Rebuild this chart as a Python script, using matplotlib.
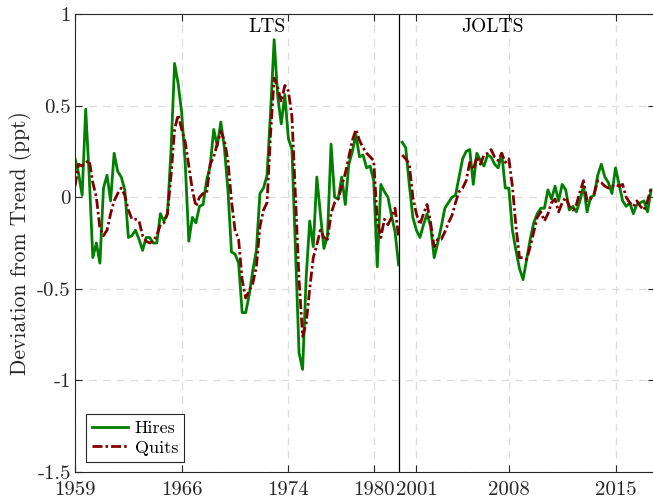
#!/usr/bin/env python3

import matplotlib
matplotlib.use("Agg")
import matplotlib.pyplot as plt
import numpy as np

plt.rcParams["font.family"] = "cmr10"
plt.rcParams["mathtext.fontset"] = "cm"
plt.rcParams["axes.unicode_minus"] = False

# quarterly deviations from trend, LTS sample (1959-1981)
hires_lts = [
    0.21, 0.13, 0.01, 0.48, 0.11, -0.33, -0.25, -0.36, 0.05, 0.12,
    -0.02, 0.24, 0.14, 0.11, 0.04, -0.22, -0.21, -0.18, -0.23, -0.29,
    -0.22, -0.22, -0.25, -0.25, -0.09, -0.13, -0.09, 0.26, 0.73, 0.62,
    0.46, 0.18, -0.24, -0.11, -0.14, -0.05, -0.04, 0.09, 0.17, 0.37,
    0.28, 0.41, 0.27, 0.04, -0.30, -0.31, -0.36, -0.63, -0.63, -0.53,
    -0.40, -0.29, 0.02, 0.05, 0.12, 0.47, 0.86, 0.55, 0.40, 0.56,
    0.32, 0.26, -0.29, -0.85, -0.94, -0.44, -0.13, -0.27, 0.11, -0.09,
    -0.28, -0.21, 0.29, 0.00, -0.01, 0.11, -0.04, 0.18, 0.25, 0.34,
    0.22, 0.23, 0.16, 0.17, 0.09, -0.38, 0.07, 0.03, 0.00, -0.10,
    -0.19, -0.37,
]
quits_lts = [
    0.06, 0.18, 0.17, 0.19, 0.20, 0.08, 0.00, -0.17, -0.21, -0.18,
    -0.09, -0.02, 0.02, 0.05, 0.01, -0.07, -0.12, -0.12, -0.13, -0.21,
    -0.24, -0.25, -0.24, -0.21, -0.15, -0.14, -0.09, 0.12, 0.37, 0.45,
    0.37, 0.30, 0.17, 0.04, -0.05, 0.00, 0.02, 0.02, 0.18, 0.22,
    0.29, 0.36, 0.31, 0.20, -0.02, -0.18, -0.23, -0.45, -0.55, -0.51,
    -0.47, -0.38, -0.16, -0.07, -0.03, 0.35, 0.65, 0.60, 0.52, 0.61,
    0.58, 0.44, 0.00, -0.45, -0.76, -0.69, -0.50, -0.33, -0.26, -0.18,
    -0.22, -0.23, -0.09, -0.03, -0.01, 0.06, 0.13, 0.22, 0.31, 0.37,
    0.31, 0.27, 0.24, 0.22, 0.20, -0.13, -0.22, -0.12, -0.15, -0.11,
    -0.06, -0.22,
]

# JOLTS sample (2001-2019)
hires_jolts = [
    0.30, 0.27, 0.07, -0.11, -0.18, -0.22, -0.15, -0.09, -0.16, -0.33,
    -0.25, -0.16, -0.06, -0.03, 0.00, 0.01, 0.11, 0.21, 0.25, 0.26,
    0.07, 0.24, 0.20, 0.17, 0.23, 0.22, 0.18, 0.16, 0.24, 0.05,
    0.05, -0.18, -0.29, -0.39, -0.45, -0.34, -0.23, -0.14, -0.09, -0.06,
    -0.06, 0.04, -0.01, 0.06, -0.02, 0.07, 0.04, -0.07, -0.05, -0.08,
    -0.02, 0.06, -0.08, 0.00, 0.01, 0.12, 0.18, 0.11, 0.08, 0.02,
    0.16, 0.07, -0.02, -0.05, -0.03, -0.09, -0.04, -0.03, -0.02, -0.08,
    0.04,
]
quits_jolts = [
    0.23, 0.21, 0.18, 0.00, -0.09, -0.15, -0.09, -0.04, -0.14, -0.27,
    -0.23, -0.23, -0.19, -0.14, -0.10, -0.03, 0.03, 0.05, 0.09, 0.19,
    0.15, 0.22, 0.18, 0.23, 0.24, 0.26, 0.22, 0.20, 0.24, 0.19,
    0.21, 0.06, -0.16, -0.33, -0.33, -0.34, -0.27, -0.19, -0.11, -0.08,
    -0.13, -0.09, -0.03, -0.01, -0.08, -0.03, 0.00, -0.05, -0.07, -0.04,
    0.03, 0.09, -0.02, -0.01, 0.02, 0.09, 0.08, 0.06, 0.05, 0.06,
    0.07, 0.06, 0.07, 0.00, -0.03, -0.05, -0.02, -0.05, -0.07, -0.02,
    0.05,
]

tick_pos = [0, 30, 60, 84, 96, 122, 152]
tick_labels = ["1959", "1966", "1974", "1980", "2001", "2008", "2015"]
y_ticks = [-1.5, -1, -0.5, 0, 0.5, 1]
y_labels = ["-1.5", "-1", "-0.5", "0", "0.5", "1"]

# both surveys share one quarterly index, JOLTS picks up right after LTS
x_lts = np.arange(len(hires_lts))
x_jolts = np.arange(len(hires_jolts)) + len(hires_lts)
split = len(hires_lts) - 1

green = "#007f00"
red = "#800000"
dash = (0, (3.6, 1.1, 0.9, 1.1))

fig = plt.figure(figsize=(6.53, 5.0), dpi=100)
ax = fig.add_axes([0.1149, 0.056, 0.8876, 0.916])

ax.plot(x_lts, hires_lts, color=green, lw=2.0, label="Hires")
ax.plot(x_lts, quits_lts, color=red, lw=2.0, ls=dash, label="Quits")
ax.plot(x_jolts, hires_jolts, color=green, lw=2.0)
ax.plot(x_jolts, quits_jolts, color=red, lw=2.0, ls=dash)
ax.axvline(split, color="black", lw=0.9)

ax.text(54, 0.93, "LTS", ha="center", va="center", fontsize=14)
ax.text(117.5, 0.93, "JOLTS", ha="center", va="center", fontsize=14)

ax.set_xlim(0, 163)
ax.set_ylim(-1.5, 1)
ax.set_xticks(tick_pos)
ax.set_xticklabels(tick_labels)
ax.set_yticks(y_ticks)
ax.set_yticklabels(y_labels)
ax.tick_params(direction="in", length=5, width=0.8, top=True, right=True,
               labelsize=15, colors="#262626")
ax.tick_params(axis="x", pad=6.5)
ax.tick_params(axis="y", pad=3)
for s in ax.spines.values():
    s.set_color("#262626")
    s.set_linewidth(0.8)

ax.grid(True, color="#dcdcdc", ls=(0, (6, 5)), lw=0.9)
ax.set_axisbelow(True)
ax.set_ylabel("Deviation from Trend (ppt)", fontsize=15.5, color="#262626",
              labelpad=4)

leg = ax.legend(loc="lower left", bbox_to_anchor=(0.019, 0.022), fontsize=13,
                fancybox=False, edgecolor="#262626", framealpha=1,
                borderaxespad=0, handlelength=2.0, borderpad=0.35,
                labelspacing=0.2, handletextpad=0.35)
leg.get_frame().set_linewidth(0.8)

fig.savefig("out.png", dpi=100)
